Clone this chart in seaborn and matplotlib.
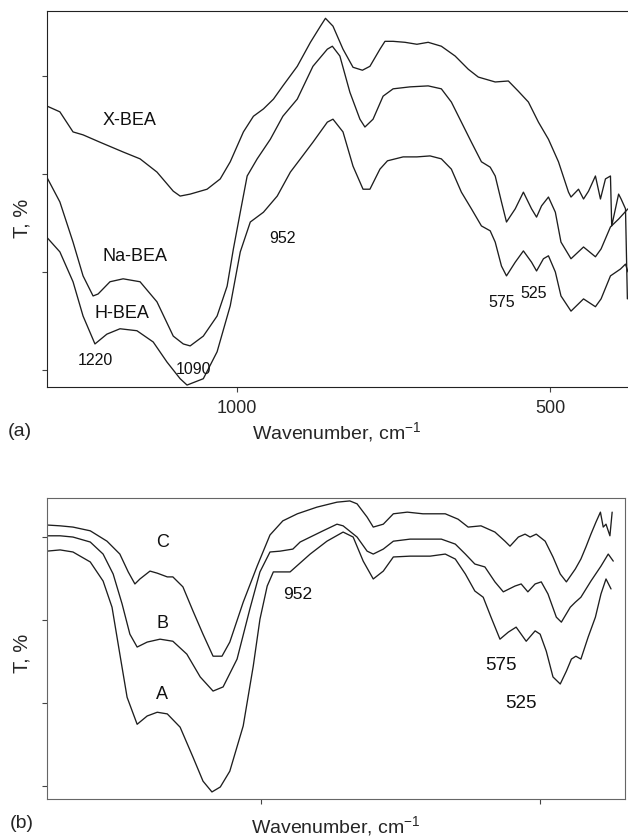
import matplotlib
matplotlib.use("Agg")
import matplotlib.pyplot as plt
import seaborn as sns

# ---- panel (a): wavenumber (cm-1) and transmittance (arb. %) ----
xbea_wn = [1304, 1283, 1262, 1246, 1219, 1182, 1155, 1128, 1102, 1091, 1075, 1048, 1027, 1011, 990,
           974, 958, 942, 927, 904, 883, 867, 859, 847, 831, 815, 800, 788, 772, 764,
           751, 732, 713, 695, 674, 652, 631, 615, 588, 567, 551, 535, 519, 503, 487,
           471, 467, 455, 447, 439, 428, 420, 412, 404, 402, 391, 387, 380, 377]
xbea_t = [73.9, 72.7, 68.6, 68.0, 66.5, 64.5, 63.1, 60.4, 56.5, 55.5, 55.9, 56.9, 59.0, 62.5, 68.6,
          71.8, 73.3, 75.3, 78.0, 82.0, 86.9, 90.2, 91.8, 90.2, 85.5, 81.8, 81.2, 82.0, 85.5, 87.1,
          87.1, 86.9, 86.5, 86.9, 86.1, 84.1, 81.4, 79.8, 78.8, 79.0, 76.9, 74.7, 70.6, 67.1, 62.5,
          56.3, 55.3, 56.9, 54.9, 56.5, 59.6, 54.9, 59.0, 59.6, 49.4, 55.9, 54.9, 52.9, 34.5]

nabea_wn = [1304, 1283, 1262, 1246, 1230, 1222, 1203, 1182, 1155, 1128, 1102, 1086, 1075, 1054, 1032,
            1016, 1006, 995, 984, 968, 947, 927, 904, 879, 856, 848, 836, 820, 804, 796,
            783, 767, 751, 724, 695, 674, 658, 642, 626, 610, 596, 588, 578, 570, 556,
            543, 530, 522, 514, 503, 492, 483, 467, 447, 428, 419, 404, 391, 376]
nabea_t = [59.4, 54.3, 46.1, 39.2, 35.1, 35.5, 38.0, 38.6, 38.0, 33.9, 26.9, 25.3, 24.9, 26.9, 31.0,
           37.1, 44.7, 52.2, 59.6, 63.1, 67.1, 71.8, 75.3, 82.0, 85.5, 86.1, 84.1, 76.7, 71.2, 69.6,
           71.2, 75.9, 77.4, 77.8, 78.0, 77.4, 74.7, 70.6, 66.5, 62.5, 61.4, 59.6, 54.3, 50.2, 52.9,
           56.3, 52.9, 51.2, 53.5, 55.3, 52.2, 46.1, 42.7, 45.1, 43.1, 44.7, 49.2, 50.8, 52.9]

hbea_wn = [1304, 1283, 1262, 1246, 1227, 1208, 1187, 1160, 1134, 1112, 1091, 1080, 1054, 1032, 1011,
           995, 979, 958, 936, 915, 899, 879, 856, 847, 831, 815, 799, 788, 772, 760,
           735, 713, 692, 674, 658, 642, 626, 610, 596, 588, 578, 570, 556, 543, 530,
           522, 511, 503, 492, 483, 467, 447, 428, 419, 404, 388, 380, 376]
hbea_t = [47.1, 44.1, 38.0, 31.0, 25.3, 27.3, 28.4, 28.0, 25.7, 21.6, 18.2, 16.9, 18.2, 23.7, 33.1,
          44.1, 50.2, 52.2, 55.5, 60.4, 63.1, 66.5, 70.6, 71.2, 68.6, 61.6, 56.9, 56.9, 61.0, 62.7,
          63.5, 63.5, 63.7, 63.1, 61.0, 56.3, 52.9, 49.4, 48.4, 46.1, 41.2, 39.2, 42.0, 44.3, 42.0,
          40.2, 42.7, 43.3, 40.0, 35.1, 32.0, 34.5, 32.9, 34.5, 39.2, 40.6, 41.6, 40.0]

# ---- panel (b) ----
c_wn = [1384, 1360, 1337, 1306, 1276, 1253, 1238, 1226, 1217, 1199, 1186, 1168, 1158, 1140, 1122,
        1104, 1086, 1070, 1056, 1032, 1007, 984, 961, 935, 900, 864, 841, 828, 810, 799,
        781, 763, 738, 710, 670, 647, 629, 606, 581, 563, 554, 539, 527, 518, 507,
        491, 477, 464, 453, 437, 427, 418, 409, 400, 392, 387, 382, 375, 371]
c_t = [82.9, 82.7, 82.4, 81.5, 79.0, 75.9, 71.6, 68.7, 69.9, 71.8, 71.3, 70.4, 70.4, 68.0, 62.2,
       56.6, 51.3, 51.3, 54.7, 64.3, 73.0, 80.5, 83.9, 85.6, 87.2, 88.4, 88.7, 88.0, 84.8, 82.4,
       83.1, 85.6, 86.0, 85.6, 85.6, 84.3, 82.4, 82.7, 81.2, 79.0, 77.8, 80.0, 80.7, 80.0, 80.7,
       79.0, 75.2, 71.1, 69.2, 72.3, 74.7, 77.6, 80.7, 83.6, 86.0, 82.4, 83.1, 80.3, 86.0]

b_wn = [1384, 1360, 1337, 1306, 1283, 1265, 1249, 1235, 1222, 1204, 1181, 1158, 1133, 1109, 1086,
        1068, 1043, 1020, 1002, 984, 966, 943, 930, 889, 864, 853, 828, 810, 799, 781,
        763, 733, 697, 677, 652, 634, 617, 599, 581, 566, 545, 534, 522, 509, 498,
        486, 471, 462, 446, 437, 427, 409, 391, 378, 369]
b_t = [80.3, 80.3, 80.0, 78.8, 75.9, 71.1, 63.9, 56.6, 53.5, 54.7, 55.4, 54.9, 51.8, 46.3, 42.9,
       43.9, 50.6, 62.7, 71.6, 76.4, 76.6, 77.1, 78.8, 81.5, 83.1, 82.7, 80.0, 76.6, 75.9, 77.1,
       79.0, 79.5, 79.5, 79.5, 78.3, 75.9, 73.5, 72.8, 69.2, 66.8, 68.2, 68.7, 66.8, 68.7, 69.2,
       66.3, 60.7, 59.5, 63.1, 64.3, 65.5, 69.4, 73.0, 75.9, 74.2]

a_wn = [1384, 1360, 1337, 1306, 1283, 1267, 1253, 1240, 1222, 1204, 1186, 1168, 1145, 1122, 1104,
        1088, 1073, 1056, 1032, 1014, 1002, 989, 978, 948, 912, 882, 853, 835, 817, 799,
        781, 763, 733, 697, 670, 652, 634, 617, 602, 588, 572, 557, 543, 525, 509,
        500, 489, 477, 464, 453, 444, 436, 427, 414, 401, 391, 382, 373]
a_t = [76.6, 76.9, 76.4, 74.0, 69.4, 63.1, 51.8, 41.4, 34.9, 36.9, 37.8, 37.4, 34.2, 27.0, 21.2,
       18.6, 19.8, 23.6, 34.5, 48.9, 60.2, 68.2, 71.6, 71.6, 75.9, 79.0, 81.2, 80.0, 74.2, 69.9,
       71.8, 75.2, 75.4, 75.4, 75.9, 74.7, 71.1, 67.0, 65.5, 60.7, 55.4, 57.1, 58.3, 54.9, 57.4,
       56.6, 52.5, 46.3, 44.6, 47.7, 50.6, 51.3, 50.6, 55.9, 60.7, 66.3, 69.9, 67.5]

# annotations: (text, wavenumber, T, fontsize)
labels_a = [("X-BEA", 1171, 71.2, 13), ("Na-BEA", 1163, 43.3, 13), ("H-BEA", 1184, 31.8, 13),
            ("1220", 1227, 22.2, 11.5), ("1090", 1070, 20.2, 11.5), ("952", 928, 47.1, 11.5),
            ("575", 578, 33.9, 11.5), ("525", 527, 35.9, 11.5)]
labels_b = [("C", 1176, 79.0, 13), ("B", 1176, 59.5, 13), ("A", 1177, 42.4, 13),
            ("952", 935, 66.5, 12.5), ("575", 570, 49.4, 13.5), ("525", 534, 40.2, 13.5)]

sns.set_style("ticks")
plt.rcParams["font.family"] = ["Liberation Sans", "DejaVu Sans"]
plt.rcParams["mathtext.default"] = "regular"

line_color = "#1e1e1e"

fig = plt.figure(figsize=(6.28, 8.37), dpi=100)
ax_a = fig.add_axes([0.0744, 0.5364, 0.9256, 0.4493])
ax_b = fig.add_axes([0.0744, 0.0442, 0.9208, 0.3596])

for wn, t in [(xbea_wn, xbea_t), (nabea_wn, nabea_t), (hbea_wn, hbea_t)]:
    sns.lineplot(x=wn, y=t, ax=ax_a, color=line_color, lw=0.95, sort=False, estimator=None,
                 solid_joinstyle="round")
for wn, t in [(c_wn, c_t), (b_wn, b_t), (a_wn, a_t)]:
    sns.lineplot(x=wn, y=t, ax=ax_b, color=line_color, lw=0.95, sort=False, estimator=None,
                 solid_joinstyle="round")

for txt, x, y, fs in labels_a:
    ax_a.text(x, y, txt, fontsize=fs, ha="center", va="center", color="#111")
for txt, x, y, fs in labels_b:
    ax_b.text(x, y, txt, fontsize=fs, ha="center", va="center", color="#111")

# axes ranges and ticks
ax_a.set_xlim(1304, 376)
ax_a.set_ylim(16.5, 93.3)
ax_a.set_xticks([1000, 500])
ax_a.set_xticklabels(["1000", "500"])
ax_a.set_yticks([20, 40, 60, 80])
ax_a.set_yticklabels([])
ax_a.spines["right"].set_visible(False)

ax_b.set_xlim(1384, 348)
ax_b.set_ylim(16.9, 89.4)
ax_b.set_xticks([1000, 500])
ax_b.set_xticklabels([])
ax_b.set_yticks([20, 40, 60, 80])
ax_b.set_yticklabels([])
for s in ax_b.spines.values():
    s.set_color("#666666")
for s in ["left", "top", "bottom"]:
    ax_a.spines[s].set_color("#222222")

for ax in (ax_a, ax_b):
    ax.tick_params(axis="both", direction="out", length=3.5, width=0.8, labelsize=13, pad=5,
                   color="#444444")
    ax.set_xlabel("Wavenumber, cm$^{-1}$", fontsize=14)
    ax.set_ylabel("T, %", fontsize=14.5)
    ax.xaxis.label.set_va("center")
    ax.yaxis.label.set_va("center")

ax_a.xaxis.set_label_coords(0.5, -0.117)
ax_a.yaxis.set_label_coords(-0.0425, 0.452)
ax_b.xaxis.set_label_coords(0.5, -0.086)
ax_b.yaxis.set_label_coords(-0.0425, 0.488)

fig.text(20 / 628, 1 - 432 / 837, "(a)", fontsize=14, ha="center", va="center")
fig.text(22 / 628, 1 - 824 / 837, "(b)", fontsize=14, ha="center", va="center")

fig.savefig("out.png", dpi=100)
